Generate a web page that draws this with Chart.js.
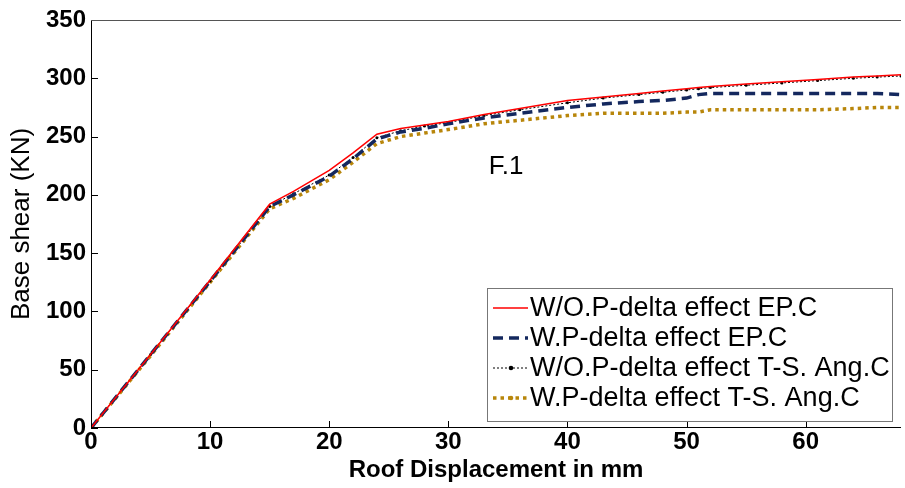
<!DOCTYPE html>
<html>
<head>
<meta charset="utf-8">
<script src="https://cdn.jsdelivr.net/npm/chart.js@4/dist/chart.umd.min.js"></script>
<style>
  html, body { margin: 0; padding: 0; background: #fff; }
  #wrap { width: 905px; height: 488px; position: relative; }
</style>
</head>
<body>
<div id="wrap"><canvas id="c" width="905" height="488"></canvas></div>
<script>
// Roof displacement (mm) shared by all four pushover curves
const displacement = [0, 5, 10, 15, 17, 20, 22, 24, 26, 28, 30, 33, 36, 40, 43, 46, 48, 50, 51, 52, 55, 58, 61, 64, 66, 68];

// Base shear (KN) for each case
const woPdeltaEPC = [0, 63, 127, 192, 203, 221, 236, 252, 257, 260, 263, 269, 274, 281, 284, 287, 289, 291, 292, 293, 295, 297, 299, 301, 302, 303];
const wPdeltaEPC  = [0, 63, 126, 190, 200, 216, 231, 248, 254, 257, 261, 266, 270, 275, 278, 280, 281, 283, 286, 287, 287, 287, 287, 287, 287, 286];
const woPdeltaTS  = [0, 63, 126, 190, 201, 217, 232, 249, 255, 259, 262, 268, 273, 279, 283, 286, 288, 290, 291, 292, 294, 296, 298, 300, 301, 302];
const wPdeltaTS   = [0, 62, 125, 188, 197, 213, 228, 244, 250, 253, 256, 261, 264, 268, 270, 270, 270, 271, 271, 273, 273, 273, 273, 274, 275, 275];

const seriesNames = [
  'W/O.P-delta effect EP.C',
  'W.P-delta effect EP.C',
  'W/O.P-delta effect T-S. Ang.C',
  'W.P-delta effect T-S. Ang.C'
];

const xTicks = [0, 10, 20, 30, 40, 50, 60];
const yTicks = [0, 50, 100, 150, 200, 250, 300, 350];

const pts = ys => displacement.map((x, i) => ({ x, y: ys[i] }));

const FONT = "'Liberation Sans', Arial, sans-serif";

// MATLAB-style axes: left/bottom/top lines with ticks pointing inwards
const boxPlugin = {
  id: 'box',
  afterDraw(chart) {
    const { ctx, chartArea: a, scales: { x, y } } = chart;
    ctx.save();
    ctx.lineWidth = 1;
    ctx.strokeStyle = '#000';
    ctx.beginPath();
    ctx.moveTo(a.left + 0.5, a.top); ctx.lineTo(a.left + 0.5, a.bottom);
    ctx.moveTo(a.left, a.bottom - 0.5); ctx.lineTo(a.right, a.bottom - 0.5);
    const tl = 7;
    xTicks.forEach(v => {
      const px = Math.round(x.getPixelForValue(v)) + 0.5;
      ctx.moveTo(px, a.bottom); ctx.lineTo(px, a.bottom - tl);
    });
    yTicks.forEach(v => {
      const py = Math.round(y.getPixelForValue(v)) + 0.5;
      ctx.moveTo(a.left, py); ctx.lineTo(a.left + tl, py);
    });
    ctx.stroke();
    ctx.strokeStyle = '#555';
    ctx.beginPath();
    ctx.moveTo(a.left, a.top + 0.5); ctx.lineTo(a.right, a.top + 0.5);
    ctx.stroke();

    // annotation
    ctx.fillStyle = '#000';
    ctx.font = '26px ' + FONT;
    ctx.textBaseline = 'middle';
    ctx.fillText('F.1', x.getPixelForValue(33.4), y.getPixelForValue(224));
    ctx.restore();
  }
};

// legend box drawn inside the axes, lower right
const legendPlugin = {
  id: 'boxLegend',
  afterDraw(chart) {
    const { ctx } = chart;
    const L = 487, T = 288, W = 405, H = 133, rowH = 30;
    ctx.save();
    ctx.fillStyle = '#fff';
    ctx.fillRect(L, T, W, H);
    ctx.strokeStyle = '#777';
    ctx.lineWidth = 1;
    ctx.strokeRect(L + 0.5, T + 0.5, W, H);
    ctx.font = '27px ' + FONT;
    ctx.textBaseline = 'middle';
    chart.data.datasets.forEach((ds, i) => {
      const cy = T + 20 + i * rowH;
      ctx.save();
      ctx.strokeStyle = ds.borderColor;
      ctx.lineWidth = ds.borderWidth;
      ctx.setLineDash(ds.borderDash || []);
      ctx.beginPath();
      ctx.moveTo(L + 6, cy); ctx.lineTo(L + 41, cy);
      ctx.stroke();
      if (ds.legendMarker) {
        ctx.setLineDash([]);
        ctx.fillStyle = ds.borderColor;
        ctx.beginPath();
        ctx.arc(L + 24, cy, 2.3, 0, Math.PI * 2);
        ctx.fill();
      }
      ctx.restore();
      ctx.fillStyle = '#000';
      ctx.fillText(ds.label, L + 43, cy + 1);
    });
    ctx.restore();
  }
};

new Chart(document.getElementById('c'), {
  type: 'line',
  data: {
    datasets: [
      { label: seriesNames[0], data: pts(woPdeltaEPC), borderColor: '#ff0000', borderWidth: 1.5, pointRadius: 0 },
      { label: seriesNames[1], data: pts(wPdeltaEPC), borderColor: '#14285e', borderWidth: 3.5, borderDash: [10, 6], pointRadius: 0 },
      { label: seriesNames[2], data: pts(woPdeltaTS), borderColor: '#000000', borderWidth: 1, borderDash: [2, 2],
        pointRadius: 1.5, pointBackgroundColor: '#000', pointBorderWidth: 0, legendMarker: true },
      { label: seriesNames[3], data: pts(wPdeltaTS), borderColor: '#b8860b', borderWidth: 3.5, borderDash: [3.5, 4], pointRadius: 0, legendMarker: true }
    ]
  },
  options: {
    responsive: false,
    animation: false,
    events: [],
    layout: { padding: { top: 20, right: 0, left: 0, bottom: 0 } },
    plugins: { legend: { display: false }, tooltip: { enabled: false } },
    scales: {
      x: {
        type: 'linear', min: 0, max: 68,
        afterBuildTicks: s => { s.ticks = xTicks.map(v => ({ value: v })); },
        afterFit: s => { s.height = 60; },
        grid: { display: false, drawTicks: false },
        border: { display: false },
        ticks: { color: '#000', font: { family: FONT, size: 24, weight: 'bold' }, padding: 0, maxRotation: 0 },
        title: { display: true, text: 'Roof Displacement in mm', color: '#000',
                 font: { family: FONT, size: 24, weight: 'bold' }, padding: { top: 0, bottom: 3 } }
      },
      y: {
        type: 'linear', min: 0, max: 350,
        afterBuildTicks: s => { s.ticks = yTicks.map(v => ({ value: v })); },
        afterFit: s => { s.width = 91; },
        grid: { display: false, drawTicks: false },
        border: { display: false },
        ticks: { color: '#000', font: { family: FONT, size: 24, weight: 'bold' }, padding: 5 },
        title: { display: true, text: 'Base shear (KN)', color: '#000',
                 font: { family: FONT, size: 26 }, padding: { top: 6, bottom: 0 } }
      }
    }
  },
  plugins: [boxPlugin, legendPlugin]
});
</script>
</body>
</html>
